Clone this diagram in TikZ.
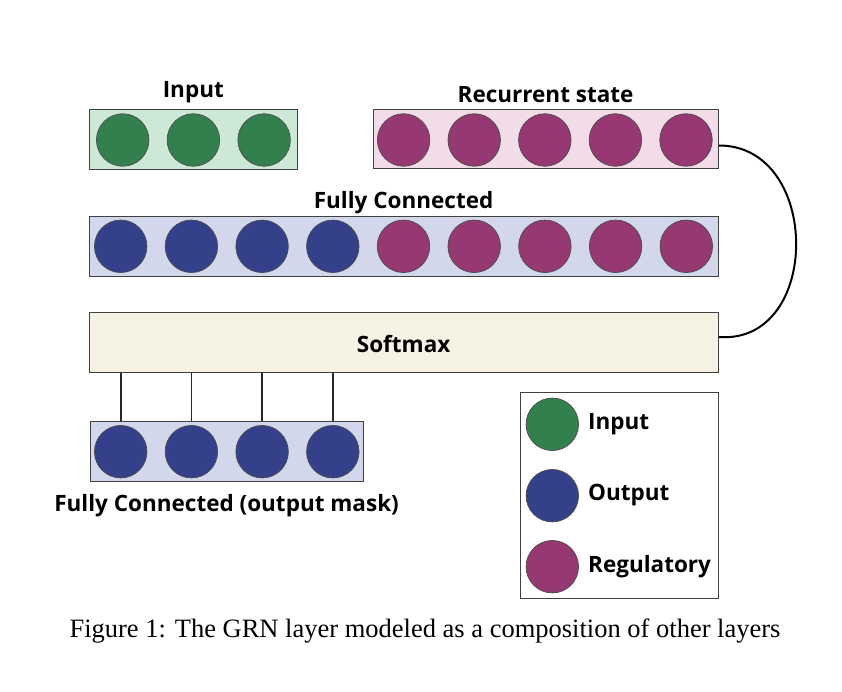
\documentclass[tikz,border=0pt]{standalone}
\usepackage{fontspec}
\setmainfont{Liberation Serif}
\newfontfamily\osb{Open Sans}
\begin{document}
\begin{tikzpicture}[x=1pt,y=-1pt,
  lbl/.style={font=\osb\bfseries\fontsize{22.5}{26}\selectfont, inner sep=0pt},
  layer/.style={draw=black!75, line width=1pt, inner sep=0pt},
  unit/.style={circle, draw=black!70, line width=0.7pt, minimum size=52.5pt, inner sep=0pt},
  gunit/.style={unit, fill=ingreen},
  bunit/.style={unit, fill=outblue},
  punit/.style={unit, fill=regpurple},
  conn/.style={draw=black!85, line width=1.6pt}]
\definecolor{ingreen}{HTML}{33804F}
\definecolor{outblue}{HTML}{34418A}
\definecolor{regpurple}{HTML}{963872}
\definecolor{lgreen}{HTML}{CDE8D6}
\definecolor{lblue}{HTML}{D2D7EC}
\definecolor{lpink}{HTML}{F2DCE8}
\definecolor{lcream}{HTML}{F5F2E4}
\useasboundingbox (0,0) rectangle (842,692);
% boxes
\node[layer, fill=lgreen, minimum width=208pt, minimum height=60pt] (inbox) at (193.3,139.7) {};
\node[layer, fill=lpink, minimum width=345pt, minimum height=59pt] (recbox) at (545.6,139.5) {};
\node[layer, fill=lblue, minimum width=629pt, minimum height=60pt] (fcbox) at (403.6,246.3) {};
\node[layer, fill=lcream, minimum width=629pt, minimum height=60pt] (smbox) at (403.6,342) {};
\node[layer, fill=lblue, minimum width=273pt, minimum height=60pt] (ombox) at (226.6,451.7) {};
\node[layer, fill=white, minimum width=198pt, minimum height=206pt] (legbox) at (619.2,495.5) {};
% labels
\node[lbl] (tin) at (193.3,92) {Input};
\node[lbl] (trec) at (545.6,95) {Recurrent state};
\node[lbl] (tfc) at (403.6,203) {Fully Connected};
\node[lbl] (tsm) at (403.6,344) {Softmax};
\node[lbl] (tom) at (226.6,506) {Fully Connected (output mask)};
% input units
\foreach \i in {0,1,2} \node[gunit] (in\i) at (122.7+70.7*\i,140) {};
% recurrent units
\foreach \i in {0,...,4} \node[punit] (rc\i) at (403.6+70.6*\i,140) {};
% fully connected units
\foreach \i in {0,...,3} \node[bunit] (fc\i) at (120.7+70.7*\i,246.3) {};
\foreach \i in {4,...,8} \node[punit] (fc\i) at (120.7+70.7*\i,246.3) {};
% output mask units
\foreach \i in {0,...,3} \node[bunit] (om\i) at (120.7+70.7*\i,451.7) {};
% connectors softmax -> output mask
\foreach \i in {0,...,3} \draw[conn] (om\i |- smbox.south) -- (om\i |- ombox.north);
% recurrent loop
\coordinate (arcA) at (recbox.east);
\coordinate (arcB) at (smbox.east);
\draw[line width=2pt] ([yshift=-6pt]arcA) .. controls (822,145) and (822,345) .. ([yshift=5pt]arcB);
% legend
\node[gunit] (lg1) at (552.3,424.3) {};
\node[bunit] (lg2) at (552.3,495.7) {};
\node[punit] (lg3) at (552.3,566.7) {};
\node[lbl, anchor=west] (lt1) at (588,424) {Input};
\node[lbl, anchor=west] (lt2) at (588,495) {Output};
\node[lbl, anchor=west] (lt3) at (588,567) {Regulatory};
% caption
\node[font=\fontsize{26.5}{30}\selectfont, inner sep=0pt] (cap) at (425,631) {Figure 1: The GRN layer modeled as a composition of other layers};
\end{tikzpicture}
\end{document}
